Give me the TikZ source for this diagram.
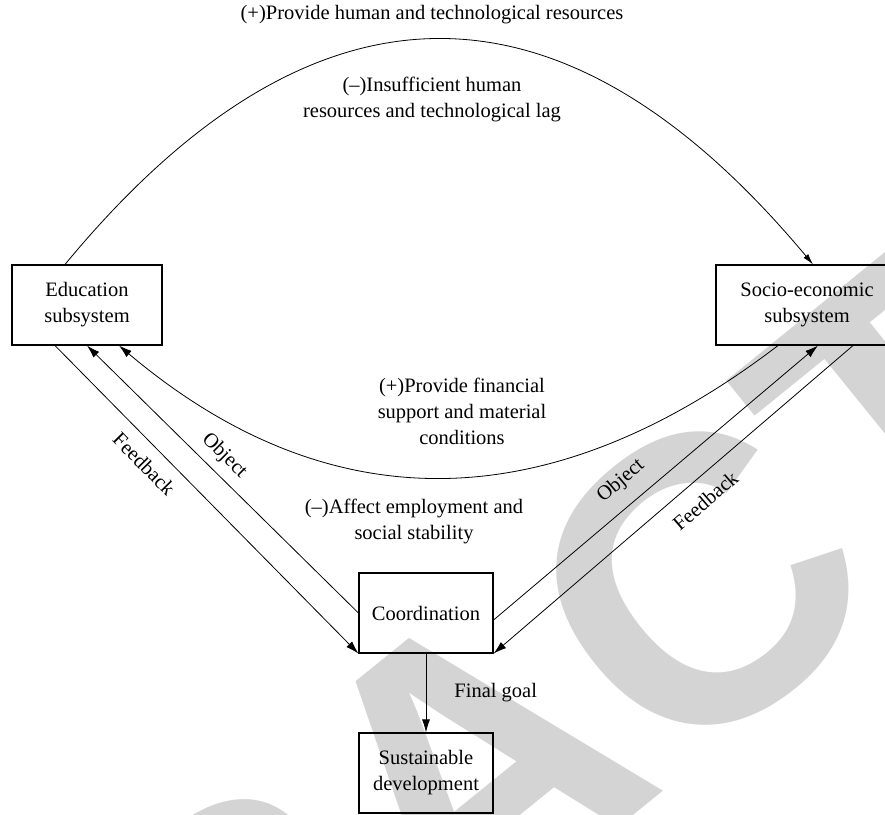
\documentclass[tikz,border=0pt]{standalone}
\usepackage{fontspec}
\setmainfont{Liberation Serif}
\newfontfamily\wmfont{Liberation Sans}
\usetikzlibrary{arrows.meta}

\tikzset{
  sysbox/.style={draw, line width=1.1pt, inner sep=0pt, align=center,
    minimum height=80pt},
  link/.style={line width=0.8pt, -{Latex[length=13pt,width=8pt]}},
  lbl/.style={align=center, inner sep=3pt},
  wmark/.style={text=black!17, inner sep=0pt,
    font=\wmfont\bfseries\fontsize{405}{405}\selectfont}
}

\begin{document}
\begin{tikzpicture}[x=1pt, y=-1pt,
    every node/.style={font=\fontsize{20.5}{26}\selectfont}]
  \useasboundingbox (0,0) rectangle (885,814);
  \clip (0,0) rectangle (885,814);

  % watermark behind the diagram
  \node[wmark, rotate=39] (wm) at (470,768) {RETRACTED};

  % subsystems
  \node[sysbox, minimum width=150pt] (edu) at (87,305) {Education\\subsystem};
  \node[sysbox, minimum width=182pt] (soc) at (807,305) {Socio-economic\\subsystem};
  \node[sysbox, minimum width=134pt] (coord) at (426,613) {Coordination};
  \node[sysbox, minimum width=134pt] (sust) at (426,773) {Sustainable\\development};

  % upper loop: education -> socio-economic
  \draw[line width=0.8pt, -{Latex[length=11pt,width=6pt]}]
    ([xshift=-22pt]edu.north) .. controls (314,-37) and (564,-34) ..
    ([xshift=6pt]soc.north);
  \node[lbl] (t1) at (432,15) {(+)Provide human and technological resources};
  \node[lbl] (t2) at (432,99) {(--)Insufficient human\\resources and technological lag};

  % lower loop: socio-economic -> education
  \draw[link]
    ([xshift=-29pt]soc.south) .. controls (547,522) and (327,521) ..
    ([xshift=32pt]edu.south);
  \node[lbl] (t3) at (462,411) {(+)Provide financial\\support and material\\conditions};
  \node[lbl] (t4) at (414,521) {(--)Affect employment and\\social stability};

  % links with the coordination box
  \draw[link] ([xshift=-32pt]edu.south) -- (coord.south west)
    node[sloped, pos=0.34, below=12pt, inner sep=0pt] {Feedback};
  \draw[link] (coord.west) -- (edu.south)
    node[sloped, pos=0.54, above=8pt, inner sep=0pt] {Object};
  \draw[link] ([yshift=-7pt]coord.east) -- ([xshift=11pt]soc.south)
    node[sloped, pos=0.44, above=14pt, inner sep=0pt] {Object};
  \draw[link] ([xshift=46pt]soc.south) -- (coord.south east)
    node[sloped, pos=0.45, below=14pt, inner sep=0pt] {Feedback};

  % final goal
  \draw[link] (coord.south) -- (sust.north)
    node[midway, right=28pt, inner sep=0pt] {Final goal};
\end{tikzpicture}
\end{document}
